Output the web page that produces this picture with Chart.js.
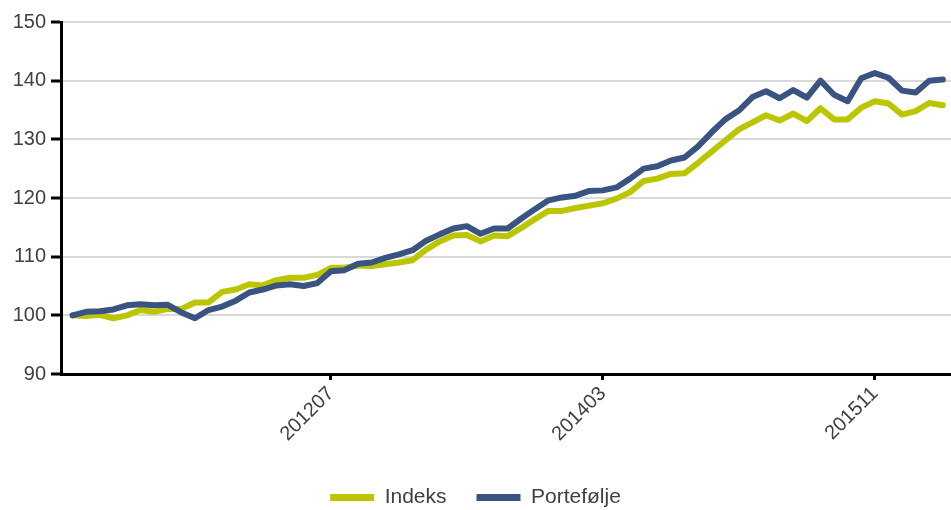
<!DOCTYPE html>
<html>
<head>
<meta charset="utf-8">
<script src="https://cdn.jsdelivr.net/npm/chart.js@4.4.0/dist/chart.umd.min.js"></script>
<style>
  html, body { margin: 0; padding: 0; background: #fff; }
  #wrap { width: 951px; height: 510px; position: relative; }
</style>
</head>
<body>
<div id="wrap"><canvas id="chart"></canvas></div>
<script>
// Months 201012 .. 201604
var months = [];
for (var y = 2010; y <= 2016; y++) {
  for (var m = 1; m <= 12; m++) {
    var key = y * 100 + m;
    if (key >= 201012 && key <= 201604) months.push(String(key));
  }
}

var indeks = [
  100.0, 99.9, 100.1, 99.5, 100.0, 100.9, 100.6, 101.1, 101.1, 102.2,
  102.2, 104.0, 104.4, 105.3, 105.1, 106.0, 106.4, 106.4, 106.9, 108.1,
  108.1, 108.5, 108.4, 108.7, 109.0, 109.4, 111.2, 112.6, 113.6, 113.7,
  112.6, 113.6, 113.5, 114.9, 116.4, 117.8, 117.8, 118.3, 118.7, 119.1,
  119.9, 121.0, 122.9, 123.3, 124.1, 124.2, 126.0, 127.9, 129.8, 131.7,
  132.9, 134.1, 133.2, 134.4, 133.1, 135.3, 133.4, 133.4, 135.4, 136.5,
  136.1, 134.2, 134.8, 136.2, 135.8
];

var portefolje = [
  100.0, 100.6, 100.7, 101.0, 101.7, 101.9, 101.7, 101.8, 100.5, 99.5,
  100.9, 101.5, 102.5, 103.9, 104.4, 105.1, 105.3, 105.0, 105.5, 107.5,
  107.7, 108.8, 109.0, 109.8, 110.4, 111.1, 112.7, 113.8, 114.8, 115.2,
  113.9, 114.8, 114.8, 116.5, 118.1, 119.6, 120.1, 120.4, 121.2, 121.3,
  121.8, 123.3, 125.0, 125.4, 126.4, 126.9, 128.8, 131.2, 133.4, 134.9,
  137.2, 138.2, 137.0, 138.4, 137.1, 140.0, 137.6, 136.5, 140.4, 141.3,
  140.5, 138.3, 138.0, 140.0, 140.2
];

// only these months get a label on the x axis
var xTickLabels = ['201207', '201403', '201511'];

function points(arr) {
  return arr.map(function (v, i) { return { x: i, y: v }; });
}

var FONT = 'Liberation Sans, Arial, sans-serif';
var TEXT = '#404040';

// legend: flat boxes, no outline
function legendLabels(chart) {
  return Chart.defaults.plugins.legend.labels.generateLabels(chart)
    .sort(function (a, b) { return a.datasetIndex - b.datasetIndex; })
    .map(function (it) { it.lineWidth = 0; it.fillStyle = it.strokeStyle; return it; });
}

new Chart(document.getElementById('chart').getContext('2d'), {
  type: 'line',
  data: {
    datasets: [
      { label: 'Indeks', data: points(indeks), borderColor: '#bcc600', backgroundColor: '#bcc600',
        borderWidth: 6, pointRadius: 0, tension: 0, borderJoinStyle: 'round', borderCapStyle: 'round', order: 1 },
      { label: 'Portefølje', data: points(portefolje), borderColor: '#3a5482', backgroundColor: '#3a5482',
        borderWidth: 6, pointRadius: 0, tension: 0, borderJoinStyle: 'round', borderCapStyle: 'round', order: 0 }
    ]
  },
  options: {
    responsive: true,
    maintainAspectRatio: false,
    animation: false,
    layout: { padding: { top: 22, right: 0, left: 0, bottom: -8 } },
    plugins: {
      tooltip: { enabled: false },
      legend: {
        position: 'bottom',
        labels: {
          boxWidth: 44, boxHeight: 7, padding: 30,
          color: TEXT, font: { family: FONT, size: 21 },
          generateLabels: legendLabels
        }
      }
    },
    scales: {
      x: {
        type: 'linear',
        min: -0.85,
        max: 64.6,
        afterBuildTicks: function (axis) {
          axis.ticks = xTickLabels.map(function (l) { return { value: months.indexOf(l) }; });
        },
        afterFit: function (axis) { axis.height = 83; },
        ticks: {
          autoSkip: false, maxRotation: 45, minRotation: 45, padding: 2,
          color: TEXT, font: { family: FONT, size: 20 },
          callback: function (v) { return months[v]; }
        },
        grid: { drawOnChartArea: false, drawTicks: true, tickLength: 6, tickWidth: 3, tickColor: '#000' },
        border: { color: '#000', width: 3 }
      },
      y: {
        min: 90,
        max: 150,
        afterFit: function (axis) { axis.width = 61; },
        ticks: { stepSize: 10, padding: 5, color: TEXT, font: { family: FONT, size: 20 } },
        grid: { color: '#d9d9d9', lineWidth: 2, tickLength: 10, tickWidth: 3, tickColor: '#000' },
        border: { color: '#000', width: 3 }
      }
    }
  }
});
</script>
</body>
</html>
